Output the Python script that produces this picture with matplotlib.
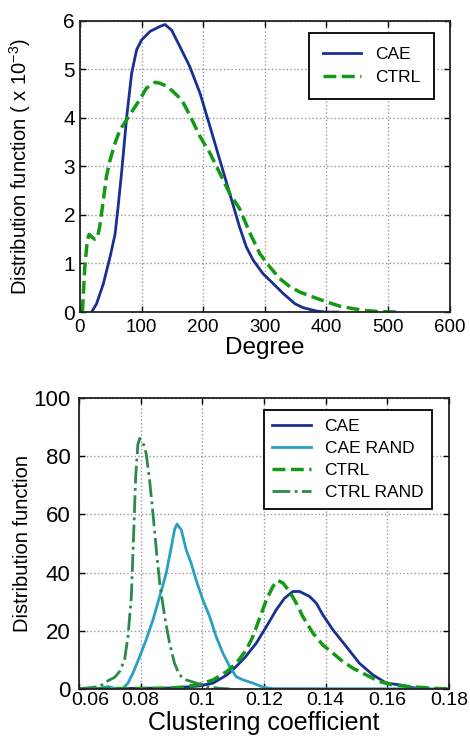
import matplotlib
matplotlib.use("Agg")
import matplotlib.pyplot as plt
from matplotlib.transforms import ScaledTranslation

plt.rcParams["font.family"] = ["Liberation Sans", "DejaVu Sans"]
plt.rcParams["mathtext.fontset"] = "custom"
plt.rcParams["mathtext.rm"] = "Liberation Sans"
plt.rcParams["mathtext.it"] = "Liberation Sans"

# --- degree distribution (values x 1e-3)
cae_deg_x = [19, 27, 38, 49, 57, 62, 68, 76, 84, 92, 100, 114, 130, 138, 149, 162,
             178, 195, 211, 227, 243, 259, 270, 281, 297, 314, 330, 349, 362, 384,
             400, 419]
cae_deg_y = [0.0, 0.17, 0.58, 1.14, 1.6, 2.17, 2.92, 4.03, 4.92, 5.4, 5.6, 5.78,
             5.88, 5.92, 5.8, 5.47, 5.06, 4.5, 3.82, 3.13, 2.44, 1.75, 1.34, 1.07,
             0.79, 0.58, 0.38, 0.17, 0.09, 0.02, 0.0, 0.0]
ctrl_deg_x = [4, 8, 12, 15, 19, 24, 28, 32, 38, 43, 49, 57, 65, 76, 86, 97, 108,
              122, 130, 141, 151, 165, 178, 195, 211, 227, 243, 259, 276, 292, 308,
              324, 341, 357, 378, 400, 422, 443, 465, 486, 514]
ctrl_deg_y = [0.0, 0.93, 1.48, 1.6, 1.55, 1.5, 1.51, 1.75, 2.3, 2.79, 3.13, 3.48,
              3.75, 3.96, 4.16, 4.37, 4.61, 4.73, 4.71, 4.65, 4.54, 4.37, 4.06, 3.61,
              3.27, 2.86, 2.44, 2.13, 1.62, 1.2, 0.93, 0.69, 0.52, 0.41, 0.31, 0.21,
              0.12, 0.07, 0.03, 0.01, 0.0]

# --- clustering coefficient distribution
cae_cc_x = [0.06, 0.09, 0.099, 0.1035, 0.108, 0.111, 0.114, 0.1175, 0.1208, 0.124,
            0.1267, 0.1294, 0.1316, 0.1348, 0.137, 0.1391, 0.1424, 0.1467, 0.151,
            0.1554, 0.1597, 0.164, 0.1672, 0.1705, 0.1735]
cae_cc_y = [0.0, 0.3, 1.0, 2.0, 4.8, 7.7, 11.0, 15.7, 21.4, 27.2, 31.2, 33.5, 33.5,
            31.8, 29.5, 25.5, 20.3, 14.6, 8.8, 4.8, 2.0, 1.4, 0.6, 0.1, 0.0]
cae_rand_x = [0.06, 0.0667, 0.0694, 0.0716, 0.0743, 0.0759, 0.0775, 0.0797, 0.0818,
              0.084, 0.0862, 0.0883, 0.09, 0.091, 0.0918, 0.0932, 0.0948, 0.0964,
              0.098, 0.1002, 0.1024, 0.1045, 0.1067, 0.1089, 0.111, 0.1132, 0.1164,
              0.1197, 0.1229, 0.18]
cae_rand_y = [0.0, 0.2, 0.8, 0.2, 0.2, 2.0, 5.4, 11.1, 16.9, 23.7, 31.8, 39.8, 49.0,
              54.7, 56.7, 54.7, 47.8, 43.2, 37.5, 30.6, 24.9, 18.0, 12.3, 7.7, 4.2,
              3.1, 2.0, 0.6, 0.1, 0.0]
ctrl_cc_x = [0.06, 0.088, 0.0937, 0.099, 0.1035, 0.108, 0.111, 0.1143, 0.1164,
             0.1186, 0.1208, 0.1229, 0.1245, 0.1262, 0.1283, 0.1305, 0.1326, 0.1359,
             0.1391, 0.1424, 0.1456, 0.1489, 0.1532, 0.1575, 0.1618, 0.1672, 0.1748,
             0.18]
ctrl_cc_y = [0.0, 0.2, 0.6, 1.5, 3.1, 6.0, 8.8, 13.4, 18.0, 24.3, 30.6, 35.2, 37.3,
             36.4, 33.5, 29.5, 24.9, 19.2, 15.1, 12.3, 9.4, 7.1, 4.8, 2.5, 1.4, 0.8,
             0.2, 0.0]
ctrl_rand_x = [0.06, 0.0667, 0.0689, 0.0716, 0.0732, 0.0748, 0.0759, 0.077, 0.0777,
               0.0784, 0.0791, 0.0797, 0.081, 0.0818, 0.0829, 0.084, 0.0851, 0.0862,
               0.0878, 0.0894, 0.091, 0.0926, 0.0948, 0.098, 0.1013, 0.1056, 0.1089]
ctrl_rand_y = [0.0, 0.8, 2.5, 4.0, 6.0, 10.0, 18.0, 31.8, 52.0, 73.0, 84.0, 86.2,
               84.0, 81.0, 72.0, 60.4, 47.8, 36.4, 24.9, 15.7, 8.8, 4.8, 3.1, 2.0,
               0.8, 0.2, 0.0]
cc_ticks = [0.06, 0.08, 0.1, 0.12, 0.14, 0.16, 0.18]
cc_ticklabels = ["0.06", "0.08", "0.1", "0.12", "0.14", "0.16", "0.18"]

C_CAE = "#1a2f94"
C_CAE_RAND = "#2a9fc4"
C_CTRL = "#139913"
C_CTRL_RAND = "#2a8a4a"


def style(ax, xsize, ysize, xpad, ypad):
    ax.grid(True, linestyle=":", color="#999999", linewidth=1)
    ax.tick_params(direction="in", top=True, right=True, length=4, width=1)
    ax.tick_params(axis="x", labelsize=xsize, pad=xpad)
    ax.tick_params(axis="y", labelsize=ysize, pad=ypad)
    for s in ax.spines.values():
        s.set_linewidth(1.3)
        s.set_color("#222222")


fig = plt.figure(figsize=(4.7, 7.36), dpi=100)
ax1 = fig.add_axes([0.170, 0.576, 0.787, 0.396])
ax2 = fig.add_axes([0.168, 0.064, 0.787, 0.395])

ax1.plot(cae_deg_x, cae_deg_y, color=C_CAE, lw=2, label="CAE")
ax1.plot(ctrl_deg_x, ctrl_deg_y, color=C_CTRL, lw=2.5, ls="--", label="CTRL")
ax1.set_xlim(0, 600)
ax1.set_ylim(0, 6)
ax1.set_xlabel("Degree", fontsize=17.5, labelpad=1)
ax1.set_ylabel(r"Distribution function ( x 10$^{-3}$)", fontsize=14.5)
ax1.yaxis.set_label_coords(-0.127, 0.5)
style(ax1, 13.5, 15, 5, 3.5)
leg = ax1.legend(loc="upper right", fontsize=12.5, fancybox=False, framealpha=1,
                 edgecolor="black", handlelength=2.2, borderpad=0.8,
                 borderaxespad=0, bbox_to_anchor=(0.957, 0.959))
leg.get_frame().set_linewidth(1.3)

ax2.plot(cae_cc_x, cae_cc_y, color=C_CAE, lw=2, label="CAE")
ax2.plot(cae_rand_x, cae_rand_y, color=C_CAE_RAND, lw=2, label="CAE RAND")
ax2.plot(ctrl_cc_x, ctrl_cc_y, color=C_CTRL, lw=2.5, ls="--", label="CTRL")
ax2.plot(ctrl_rand_x, ctrl_rand_y, color=C_CTRL_RAND, lw=2, ls="-.", label="CTRL RAND")
ax2.set_xlim(0.06, 0.18)
ax2.set_ylim(0, 100)
ax2.set_xticks(cc_ticks)
ax2.set_xticklabels(cc_ticklabels)
ax2.set_xlabel("Clustering coefficient", fontsize=18, labelpad=1.5)
ax2.set_ylabel("Distribution function", fontsize=14.5)
ax2.yaxis.set_label_coords(-0.127, 0.5)
style(ax2, 14, 16, 2, 6)
# first label sits slightly right of its tick in the original
first = ax2.get_xticklabels()[0]
first.set_transform(first.get_transform()
                    + ScaledTranslation(11 / 100, 0, fig.dpi_scale_trans))
leg2 = ax2.legend(loc="upper right", fontsize=12.5, fancybox=False, framealpha=1,
                  edgecolor="black", handlelength=2.2, borderpad=0.5,
                  labelspacing=0.4, borderaxespad=0,
                  bbox_to_anchor=(0.954, 0.959))
leg2.get_frame().set_linewidth(1.3)

fig.savefig("out.png", dpi=100, facecolor="white")
